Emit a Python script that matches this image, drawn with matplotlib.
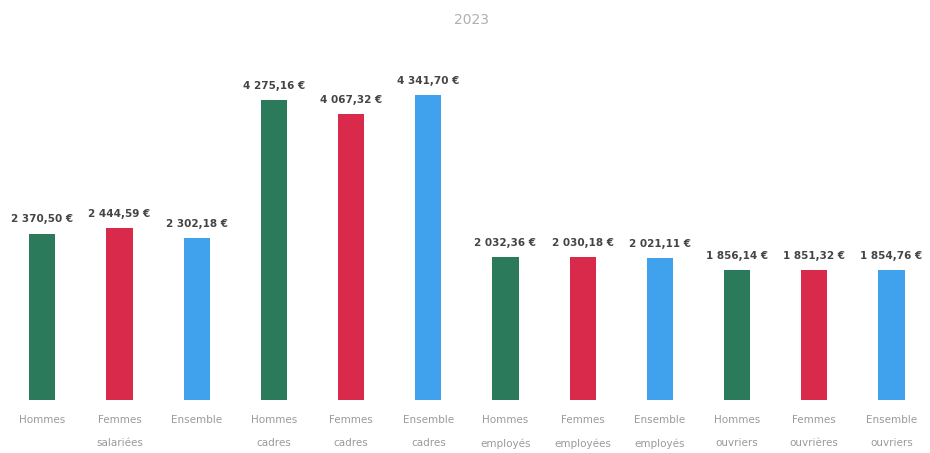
import matplotlib
matplotlib.use("Agg")
import matplotlib.pyplot as plt

categories = ["Hommes", "Femmes\nsalariées", "Ensemble",
              "Hommes\ncadres", "Femmes\ncadres", "Ensemble\ncadres",
              "Hommes\nemployés", "Femmes\nemployées", "Ensemble\nemployés",
              "Hommes\nouvriers", "Femmes\nouvrières", "Ensemble\nouvriers"]
values = [2370.50, 2444.59, 2302.18,
          4275.16, 4067.32, 4341.70,
          2032.36, 2030.18, 2021.11,
          1856.14, 1851.32, 1854.76]
palette = ["#2B7A5B", "#DA2A4B", "#40A2EC"]
title = "2023"

def fmt(v):
    s = f"{v:,.2f}"
    return s.replace(",", " ").replace(".", ",") + " €"

fig = plt.figure(figsize=(9.30, 4.53), dpi=100)
ax = fig.add_axes([0.004, 0.117, 0.996, 0.75])
x = list(range(len(values)))
colors = [palette[i % 3] for i in x]
bars = ax.bar(x, values, width=0.34, color=colors)
for xi, v in zip(x, values):
    ax.text(xi, v + 130, fmt(v), ha="center", va="bottom", fontsize=7.5,
            fontweight="bold", color="#444444")
ax.set_xlim(-0.5, len(values) - 0.5)
ax.set_ylim(0, 4840)
ax.set_xticks(x)
ax.set_xticklabels(categories, fontsize=7.5, color="#9a9a9a", linespacing=2.6)
ax.tick_params(axis="x", length=0, pad=11)
ax.set_yticks([])
for sp in ax.spines.values():
    sp.set_visible(False)
fig.text(0.507, 0.955, title, ha="center", va="center", fontsize=10, color="#b0b0b0")
fig.savefig("out.png", dpi=100)
